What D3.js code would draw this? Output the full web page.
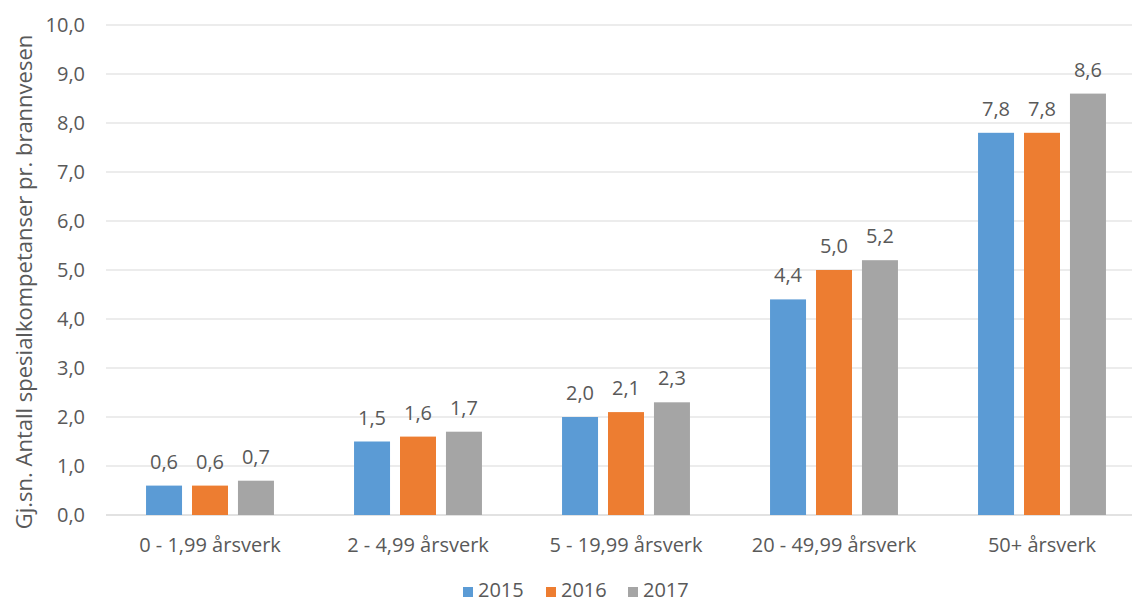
<!DOCTYPE html>
<html><head><meta charset="utf-8">
<script src="https://cdn.jsdelivr.net/npm/d3@7"></script>
<style>body{margin:0;background:#fff}svg{display:block}text{font-family:"Open Sans","Noto Sans",sans-serif;fill:#595959}</style>
</head><body><svg id="c" width="1132" height="604"></svg>
<script>
const categories = ["0 - 1,99 årsverk","2 - 4,99 årsverk","5 - 19,99 årsverk","20 - 49,99 årsverk","50+ årsverk"];
const seriesNames = ["2015","2016","2017"];
const v2015 = [0.6,1.5,2.0,4.4,7.8];
const v2016 = [0.6,1.6,2.1,5.0,7.8];
const v2017 = [0.7,1.7,2.3,5.2,8.6];
const yTicks = [0,1,2,3,4,5,6,7,8,9,10];
const colors = ["#5B9BD5","#ED7D31","#A5A5A5"];
const series = [v2015,v2016,v2017];
const yTitle = "Gj.sn. Antall spesialkompetanser pr. brannvesen";

const svg = d3.select("#c");
const fmt = v => d3.format(".1f")(v).replace(".", ",");
const y = d3.scaleLinear().domain([0,10]).range([515,25]);
const x0 = d3.scaleBand().domain(categories).range([106,1146]).paddingInner(0.385).paddingOuter(0.1925);
const x1 = d3.scaleBand().domain(seriesNames).range([0,x0.bandwidth()]).paddingInner(0.217).paddingOuter(0);

// gridlines
svg.append("g").selectAll("line").data(yTicks).join("line")
  .attr("x1",106).attr("x2",1146).attr("y1",d=>y(d)).attr("y2",d=>y(d))
  .attr("stroke","#D9D9D9").attr("stroke-width",d=>d===0?1.5:1);

// y axis labels
const ya = svg.append("g").attr("transform","translate(106,0)")
  .call(d3.axisLeft(y).tickValues(yTicks).tickFormat(fmt).tickSize(0).tickPadding(21));
ya.select(".domain").remove();
ya.selectAll("text").style("font-size","20px").attr("fill","#595959").style("font-family",'"Open Sans","Noto Sans",sans-serif');

// x axis labels
const xa = svg.append("g").attr("transform","translate(0,515)")
  .call(d3.axisBottom(x0).tickSize(0).tickPadding(23));
xa.select(".domain").remove();
xa.selectAll("text").style("font-size","20px").attr("fill","#595959").style("font-family",'"Open Sans","Noto Sans",sans-serif');

// bars
const g = svg.append("g").selectAll("g").data(categories).join("g")
  .attr("transform",c=>`translate(${x0(c)},0)`);
seriesNames.forEach((s,si)=>{
  g.append("rect")
    .attr("x",x1(s)).attr("width",x1.bandwidth())
    .attr("y",(c,i)=>y(series[si][i])).attr("height",(c,i)=>y(0)-y(series[si][i]))
    .attr("fill",colors[si]);
  g.append("text")
    .attr("x",x1(s)+x1.bandwidth()/2).attr("y",(c,i)=>y(series[si][i])-17)
    .attr("text-anchor","middle").style("font-size","20px")
    .text((c,i)=>fmt(series[si][i]));
});

// y title
svg.append("text").attr("transform","translate(32,282) rotate(-90)")
  .attr("text-anchor","middle").style("font-size","22px").text(yTitle);

// legend
const lx = [463,546,628];
const lg = svg.append("g").selectAll("g").data(seriesNames).join("g")
  .attr("transform",(d,i)=>`translate(${lx[i]},0)`);
lg.append("rect").attr("x",0).attr("y",587).attr("width",10).attr("height",10).attr("fill",(d,i)=>colors[i]);
lg.append("text").attr("x",15).attr("y",597).style("font-size","20px").text(d=>d);
</script></body></html>
